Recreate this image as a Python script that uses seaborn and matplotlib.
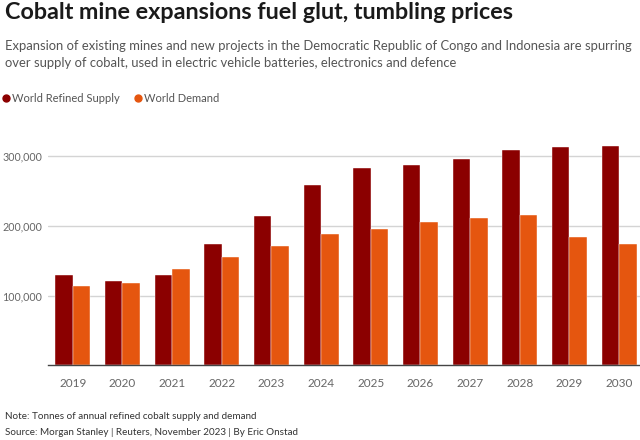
import numpy as np
import pandas as pd
import seaborn as sns
from matplotlib import pyplot as plt
from matplotlib.lines import Line2D
from matplotlib.ticker import FuncFormatter

years = ['2019', '2020', '2021', '2022', '2023', '2024', '2025', '2026', '2027', '2028', '2029', '2030']
supply = [130000, 120500, 130000, 174500, 214500, 258000, 283000, 287000, 295500, 308500, 313500, 314500]
demand = [114000, 117500, 138500, 155000, 171500, 188500, 195500, 205500, 211000, 215000, 184000, 173500]
series_names = ['World Refined Supply', 'World Demand']
colors = ['#8b0000', '#e5560f']

df = pd.DataFrame({
    'year': years * 2,
    'value': supply + demand,
    'series': [series_names[0]] * len(years) + [series_names[1]] * len(years),
})

sns.set_style('white')
plt.rcParams['font.family'] = ['Lato', 'DejaVu Sans']

fig = plt.figure(figsize=(6.4, 4.4), dpi=100)
ax = fig.add_axes([0.075, 0.1698, 0.925, 0.5386])

sns.barplot(data=df, x='year', y='value', hue='series', palette=colors,
            width=0.7, ax=ax, legend=False, saturation=1,
            edgecolor='white', linewidth=0.3)

ax.set_xlim(-0.5, 11.42)
ax.set_ylim(0, 340000)
ax.set_yticks([100000, 200000, 300000])
ax.yaxis.set_major_formatter(FuncFormatter(lambda v, p: f'{int(v):,}'))
ax.grid(axis='y', color='#d4d4d4', linewidth=1)
ax.set_axisbelow(True)
ax.set_xlabel('')
ax.set_ylabel('')
for s in ['top', 'right', 'left']:
    ax.spines[s].set_visible(False)
ax.spines['bottom'].set_color('#444444')
ax.spines['bottom'].set_linewidth(1)
ax.tick_params(axis='x', length=4, width=1, color='#444444', labelcolor='#666666',
               labelsize=8.5, pad=5)
ax.tick_params(axis='y', length=0, labelcolor='#666666', labelsize=7.7, pad=4)

# titles
fig.text(0.008, 0.972, 'Cobalt mine expansions fuel glut, tumbling prices',
         fontsize=16.8, fontweight='bold', color='#1a1a1a', va='center', ha='left')
fig.text(0.008, 0.895, 'Expansion of existing mines and new projects in the Democratic Republic of Congo and Indonesia are spurring',
         fontsize=9.4, color='#555555', va='center', ha='left')
fig.text(0.008, 0.857, 'over supply of cobalt, used in electric vehicle batteries, electronics and defence',
         fontsize=9.4, color='#555555', va='center', ha='left')

handles = [Line2D([], [], marker='o', linestyle='', markersize=5, color=c) for c in colors]
fig.legend(handles, series_names, loc='center left', bbox_to_anchor=(-0.006, 0.777),
           frameon=False, fontsize=8.0, handletextpad=0.05, columnspacing=1.1,
           ncol=2, labelcolor='#555555', handlelength=1.0, borderaxespad=0)

fig.text(0.008, 0.054, 'Note: Tonnes of annual refined cobalt supply and demand',
         fontsize=7.1, color='#333333', va='center', ha='left')
fig.text(0.008, 0.018, 'Source: Morgan Stanley | Reuters, November 2023 | By Eric Onstad',
         fontsize=7.1, color='#333333', va='center', ha='left')

fig.savefig('out.png', dpi=100)
